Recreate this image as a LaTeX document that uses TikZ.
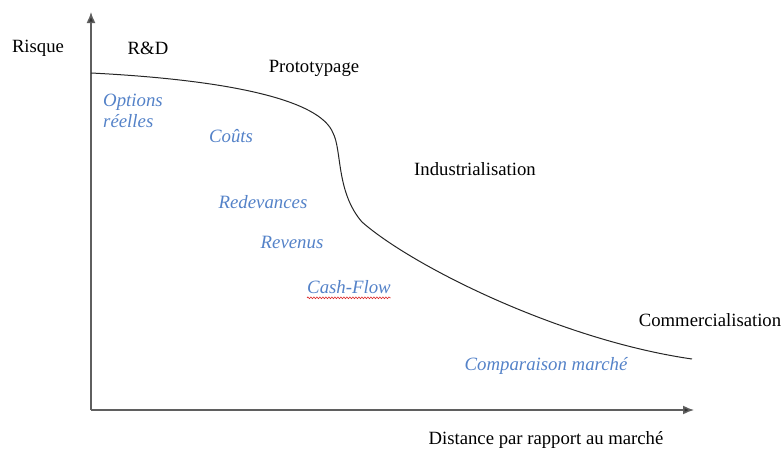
\documentclass[tikz,border=0pt]{standalone}
\usepackage{fontspec}
\setmainfont{Liberation Serif}
\usetikzlibrary{arrows.meta,decorations.pathmorphing}
\definecolor{axisgray}{RGB}{95,95,95}
\definecolor{lblue}{RGB}{84,130,200}
\definecolor{wavyred}{RGB}{220,40,40}
\tikzset{
  blk/.style={font=\fontsize{18.7}{21}\selectfont, text=black, inner sep=0pt},
  blu/.style={font=\fontsize{18.8}{21.5}\selectfont\itshape, text=lblue, inner sep=0pt, align=left},
  axis/.style={draw=axisgray, line width=1.5pt, -{Latex[length=11pt,width=9pt,fill=black!80]}},
  curve/.style={draw=black!85, line width=1pt}
}
\begin{document}
\begin{tikzpicture}[x=1pt,y=-1pt]
\useasboundingbox (0,0) rectangle (782,450);
% axes
\coordinate (O) at (91,410);
\coordinate (Y) at (91,12);
\coordinate (X) at (694,410);
\draw[axis] (O) -- (Y);
\draw[axis] (O) -- (X);
% curve
\coordinate (c0) at (91,73);
\coordinate (c1) at (333,133);
\coordinate (c2) at (362,222);
\coordinate (c3) at (692,359);
\draw[curve] (c0) .. controls (230,80) and (320,100) .. (c1)
  .. controls (342,150) and (336,192) .. (c2)
  .. controls (412,266) and (560,340) .. (c3);
% black labels
\node[blk] (risque) at (38,48) {Risque};
\node[blk] (rd) at (148,48) {R\&D};
\node[blk] (proto) at (314,68) {Prototypage};
\node[blk] (indus) at (475,169) {Industrialisation};
\node[blk] (comm) at (710,320) {Commercialisation};
\node[blk] (dist) at (546,440) {Distance par rapport au marché};
% blue labels
\node[blu, anchor=west] (opt) at (103,111) {Options\\réelles};
\node[blu] (couts) at (231,136) {Coûts};
\node[blu] (redev) at (263,202) {Redevances};
\node[blu] (rev) at (292,242) {Revenus};
\node[blu] (cash) at (349,287) {Cash-Flow};
\node[blu] (compar) at (546,366) {Comparaison marché};
% spell-check underline
\draw[wavyred, line width=0.6pt, decorate, decoration={snake, amplitude=0.9pt, segment length=3pt}]
  ([yshift=-4pt]cash.south west) -- ([yshift=-4pt]cash.south east);
\end{tikzpicture}
\end{document}
